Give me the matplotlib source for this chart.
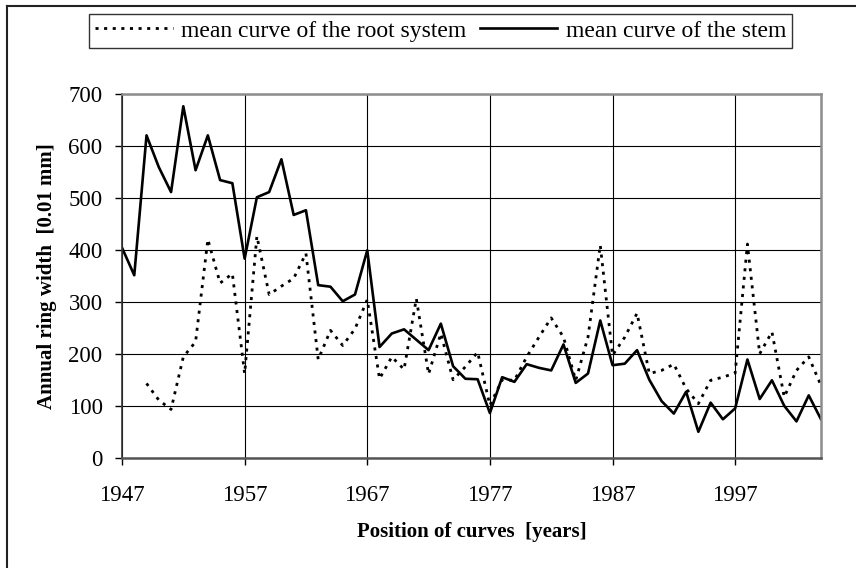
import numpy as np
import matplotlib
matplotlib.use("Agg")
import matplotlib.pyplot as plt
from matplotlib.lines import Line2D

plt.rcParams["font.family"] = ["Liberation Serif", "DejaVu Serif"]

years = list(range(1947, 2005))

stem = [405, 352, 621, 560, 512, 677, 554, 621, 535, 529,
        384, 502, 512, 575, 468, 477, 333, 330, 302, 315,
        400, 214, 240, 248, 228, 208, 259, 177, 153, 152,
        87, 156, 147, 181, 174, 169, 219, 145, 163, 265,
        179, 182, 208, 151, 110, 86, 128, 51, 107, 75,
        96, 190, 114, 150, 101, 71, 121, 75]

root = [np.nan, np.nan, 144, 112, 94, 195, 224, 421, 337, 355,
        163, 427, 315, 331, 346, 394, 190, 246, 217, 249,
        305, 153, 195, 171, 307, 162, 240, 151, 176, 204,
        102, 151, 150, 195, 233, 270, 233, 150, 233, 410,
        198, 233, 279, 163, 169, 181, 134, 105, 150, 156,
        164, 412, 201, 243, 118, 169, 195, 140]

x_ticks = [1947, 1957, 1967, 1977, 1987, 1997]
y_ticks = [0, 100, 200, 300, 400, 500, 600, 700]

W, H = 856, 568
fig = plt.figure(figsize=(W / 100, H / 100), dpi=100)
ax = fig.add_axes([122 / W, 1 - 458.3 / H, (821 - 122) / W, (458.3 - 94.3) / H])

ax.plot(years, root, color="black", lw=2.0, linestyle=(0, (1.1, 2.0)),
        label="mean curve of the root system")
ax.plot(years, stem, color="black", lw=1.9, label="mean curve of the stem")

ax.set_xlim(1947, 2004)
ax.set_ylim(0, 700)
ax.set_xticks(x_ticks)
ax.set_yticks(y_ticks)
ax.tick_params(axis="both", direction="out", length=5, width=1, labelsize=16.5)
ax.tick_params(axis="x", pad=14)
ax.tick_params(axis="y", pad=9)

ax.grid(True, color="black", lw=0.8)
ax.set_axisbelow(True)

for side in ("top", "right"):
    ax.spines[side].set_color("#8c8c8c")
    ax.spines[side].set_linewidth(1.8)
ax.spines["bottom"].set_color("#555555")
ax.spines["bottom"].set_linewidth(1.8)
ax.spines["left"].set_color("#333333")
ax.spines["left"].set_linewidth(1.2)

ax.set_ylabel("Annual ring width  [0.01 mm]", fontsize=15, fontweight="bold", labelpad=8)
ax.set_xlabel("Position of curves  [years]", fontsize=15, fontweight="bold", labelpad=12)

leg = fig.legend(loc="upper right", bbox_to_anchor=(792 / W, 1 - 14.3 / H),
                 ncol=2, fontsize=17, frameon=True, fancybox=False, shadow=False,
                 handlelength=3.3, handletextpad=0.35, columnspacing=0.55,
                 borderpad=0.25, borderaxespad=0)
leg.get_frame().set_edgecolor("black")
leg.get_frame().set_linewidth(1.0)

# outer frame lines along the top and left edges
fig.add_artist(Line2D([7 / W, 1], [1 - 6 / H, 1 - 6 / H], color="#222222", lw=1.5,
                      transform=fig.transFigure))
fig.add_artist(Line2D([7 / W, 7 / W], [0, 1 - 6 / H], color="#222222", lw=1.5,
                      transform=fig.transFigure))

fig.savefig("out.png", dpi=100)
